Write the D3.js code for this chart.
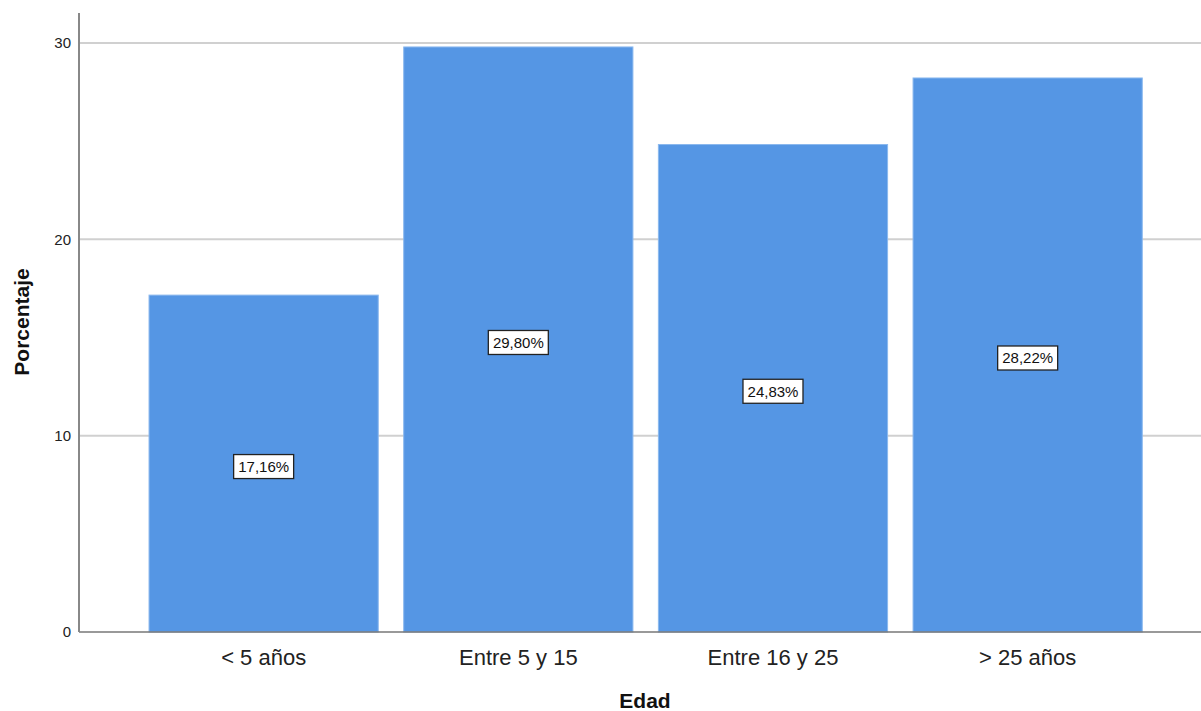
<!DOCTYPE html>
<html><head><meta charset="utf-8">
<script src="https://cdn.jsdelivr.net/npm/d3@7"></script>
<style>body{margin:0;background:#fff;}svg{display:block;font-family:"Liberation Sans",Arial,sans-serif;}</style>
</head><body>
<svg id="c" width="1201" height="711"></svg>
<script>
const categories = ["< 5 años", "Entre 5 y 15", "Entre 16 y 25", "> 25 años"];
const values = [17.16, 29.80, 24.83, 28.22];
const yTicks = [0, 10, 20, 30];
const valueLabels = ["17,16%", "29,80%", "24,83%", "28,22%"];

const svg = d3.select("#c");
const x0 = 79, y0 = 632, yTop = 13;
const y = d3.scaleLinear().domain([0, 31.53]).range([y0, yTop]);
const x = d3.scaleBand().domain(categories).range([136.3, 1155]).paddingInner(0.1).paddingOuter(0.05);

// gridlines
svg.append("g").selectAll("line").data(yTicks.filter(d=>d>0)).join("line")
  .attr("x1", x0).attr("x2", 1201).attr("y1", d=>y(d)).attr("y2", d=>y(d))
  .attr("stroke", "#d0d0d0").attr("stroke-width", 2);

// bars
svg.append("g").selectAll("rect").data(values).join("rect")
  .attr("x", (d,i)=>x(categories[i])).attr("width", x.bandwidth())
  .attr("y", d=>y(d)).attr("height", d=>y0-y(d))
  .attr("fill", "#5596e4").attr("stroke", "#8ab8ee").attr("stroke-width", 1);

// axes lines
svg.append("line").attr("x1", x0).attr("x2", 1201).attr("y1", y0).attr("y2", y0).attr("stroke", "#777").attr("stroke-width", 1.5);
svg.append("line").attr("x1", x0).attr("x2", x0).attr("y1", yTop).attr("y2", y0).attr("stroke", "#888").attr("stroke-width", 2);

// y tick labels
svg.append("g").selectAll("text").data(yTicks).join("text")
  .attr("x", x0 - 8).attr("y", d=>y(d)).attr("dy", "0.35em")
  .attr("text-anchor", "end").attr("font-size", 15).attr("fill", "#222").text(d=>d);

// x labels
svg.append("g").selectAll("text").data(categories).join("text")
  .attr("x", d=>x(d)+x.bandwidth()/2).attr("y", 665)
  .attr("text-anchor", "middle").attr("font-size", 22).attr("fill", "#222").text(d=>d);

// axis titles
svg.append("text").attr("x", 645).attr("y", 708).attr("text-anchor", "middle")
  .attr("font-size", 21).attr("font-weight", "bold").attr("fill", "#111").text("Edad");
svg.append("text").attr("transform", "translate(29,322) rotate(-90)").attr("text-anchor", "middle")
  .attr("font-size", 21).attr("font-weight", "bold").attr("fill", "#111").text("Porcentaje");

// value labels
const lg = svg.append("g").selectAll("g").data(values).join("g")
  .attr("transform", (d,i)=>`translate(${x(categories[i])+x.bandwidth()/2},${y(d/2)+3})`);
lg.append("rect").attr("x", -30).attr("y", -12).attr("width", 60).attr("height", 24)
  .attr("fill", "#fff").attr("stroke", "#222").attr("stroke-width", 1.3);
lg.append("text").attr("text-anchor", "middle").attr("dy", "0.36em")
  .attr("font-size", 15).attr("fill", "#111").text((d,i)=>valueLabels[i]);
</script>
</body></html>
